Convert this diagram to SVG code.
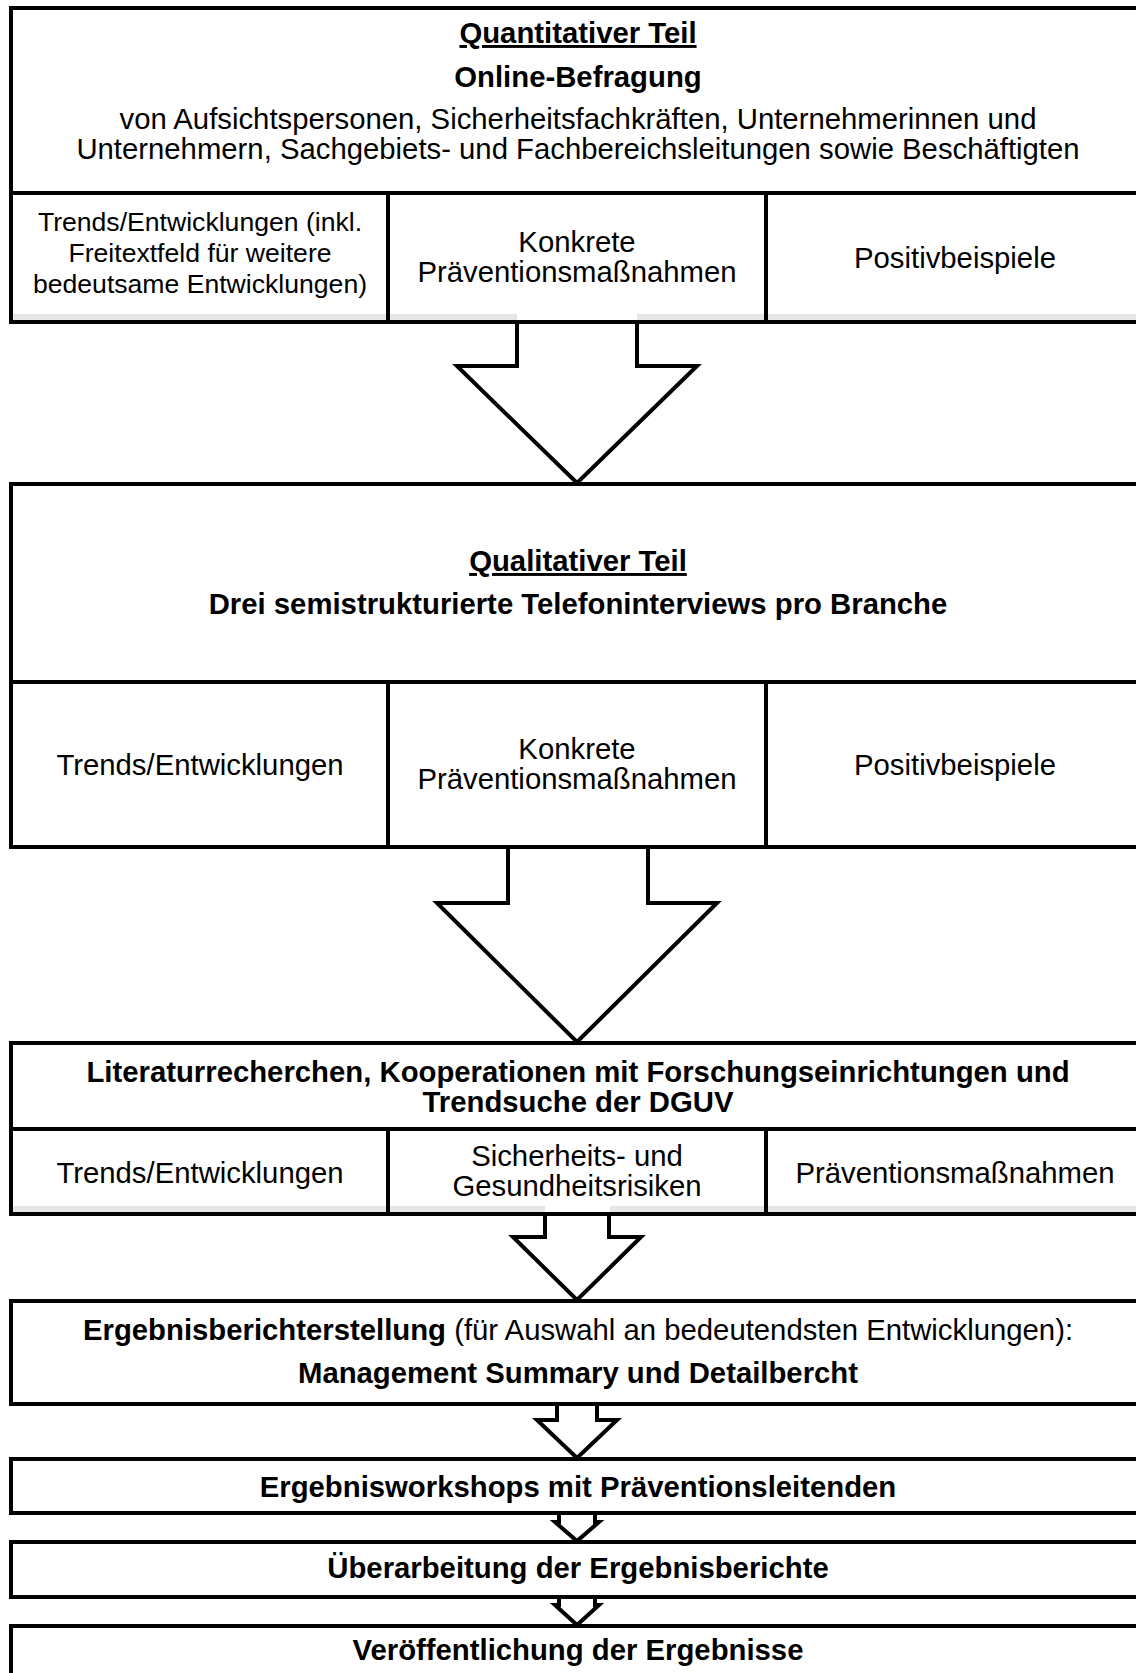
<svg xmlns="http://www.w3.org/2000/svg" width="1136" height="1673" viewBox="0 0 1136 1673">
<style>
.box{fill:#fff;stroke:#000;stroke-width:4}
.ln{stroke:#000;stroke-width:4}
.band{fill:#e6e6e6}
.arrow{fill:#fff;stroke:#000;stroke-width:4;stroke-linejoin:miter}
.t{font-family:"Liberation Sans",Arial,sans-serif;font-size:29.3px;text-anchor:middle;fill:#000}
.b{font-weight:bold}
.u{text-decoration:underline}
.s{font-size:26.6px}
</style>
<rect x="0" y="0" width="1136" height="1673" fill="#fff"/>
<g id="node-quantitativ">
<rect class="box" x="11" y="8" width="1134" height="314"/>
<rect class="band" x="13" y="314" width="504" height="6"/>
<rect class="band" x="637" y="314" width="508" height="6"/>
<line class="ln" x1="11" y1="193" x2="1145" y2="193"/>
<line class="ln" x1="388" y1="193" x2="388" y2="322"/>
<line class="ln" x1="766" y1="193" x2="766" y2="322"/>
<text class="t b u" x="578" y="43">Quantitativer Teil</text>
<text class="t b" x="578" y="87">Online-Befragung</text>
<text class="t" x="578" y="129">von Aufsichtspersonen, Sicherheitsfachkräften, Unternehmerinnen und</text>
<text class="t" x="578" y="159">Unternehmern, Sachgebiets- und Fachbereichsleitungen sowie Beschäftigten</text>
<text class="t s" x="200" y="231">Trends/Entwicklungen (inkl.</text>
<text class="t s" x="200" y="262">Freitextfeld für weitere</text>
<text class="t s" x="200" y="293">bedeutsame Entwicklungen)</text>
<text class="t" x="577" y="252">Konkrete</text>
<text class="t" x="577" y="282">Präventionsmaßnahmen</text>
<text class="t" x="955" y="268">Positivbeispiele</text>
</g>
<g id="node-qualitativ">
<rect class="box" x="11" y="484" width="1134" height="363"/>
<line class="ln" x1="11" y1="682" x2="1145" y2="682"/>
<line class="ln" x1="388" y1="682" x2="388" y2="847"/>
<line class="ln" x1="766" y1="682" x2="766" y2="847"/>
<text class="t b u" x="578" y="571">Qualitativer Teil</text>
<text class="t b" x="578" y="614">Drei semistrukturierte Telefoninterviews pro Branche</text>
<text class="t" x="200" y="775">Trends/Entwicklungen</text>
<text class="t" x="577" y="759">Konkrete</text>
<text class="t" x="577" y="789">Präventionsmaßnahmen</text>
<text class="t" x="955" y="775">Positivbeispiele</text>
</g>
<g id="node-literatur">
<rect class="box" x="11" y="1043" width="1134" height="171"/>
<rect class="band" x="13" y="1206" width="532" height="6"/>
<rect class="band" x="610" y="1206" width="535" height="6"/>
<line class="ln" x1="11" y1="1129" x2="1145" y2="1129"/>
<line class="ln" x1="388" y1="1129" x2="388" y2="1214"/>
<line class="ln" x1="766" y1="1129" x2="766" y2="1214"/>
<text class="t b" x="578" y="1082">Literaturrecherchen, Kooperationen mit Forschungseinrichtungen und</text>
<text class="t b" x="578" y="1112">Trendsuche der DGUV</text>
<text class="t" x="200" y="1183">Trends/Entwicklungen</text>
<text class="t" x="577" y="1166">Sicherheits- und</text>
<text class="t" x="577" y="1196">Gesundheitsrisiken</text>
<text class="t" x="955" y="1183">Präventionsmaßnahmen</text>
</g>
<g id="node-ergebnisbericht">
<rect class="box" x="11" y="1301" width="1134" height="103"/>
<text class="t" x="578" y="1340"><tspan class="b">Ergebnisberichterstellung</tspan> (für Auswahl an bedeutendsten Entwicklungen):</text>
<text class="t b" x="578" y="1383">Management Summary und Detailbercht</text>
</g>
<g id="node-workshops">
<rect class="box" x="11" y="1459" width="1134" height="54"/>
<text class="t b" x="578" y="1497">Ergebnisworkshops mit Präventionsleitenden</text>
</g>
<g id="node-ueberarbeitung">
<rect class="box" x="11" y="1542" width="1134" height="55"/>
<text class="t b" x="578" y="1578">Überarbeitung der Ergebnisberichte</text>
</g>
<g id="node-veroeffentlichung">
<rect class="box" x="11" y="1626" width="1134" height="100"/>
<text class="t b" x="578" y="1660">Veröffentlichung der Ergebnisse</text>
</g>
<g id="connectors">
<path class="arrow" d="M517,324 V366 H457 L577,483 L697,366 H637 V324"/>
<path class="arrow" d="M508,849 V903 H437 L577,1042 L717,903 H648 V849"/>
<path class="arrow" d="M545,1216 V1237 H513 L577,1300 L641,1237 H609 V1216"/>
<path class="arrow" d="M557,1406 V1420 H537 L577,1458 L617,1420 H597 V1406"/>
<path class="arrow" d="M559,1515 V1522 H555 L577,1541 L599,1522 H595 V1515"/>
<path class="arrow" d="M559,1599 V1605 H555 L577,1625 L599,1605 H595 V1599"/>
</g>
</svg>
